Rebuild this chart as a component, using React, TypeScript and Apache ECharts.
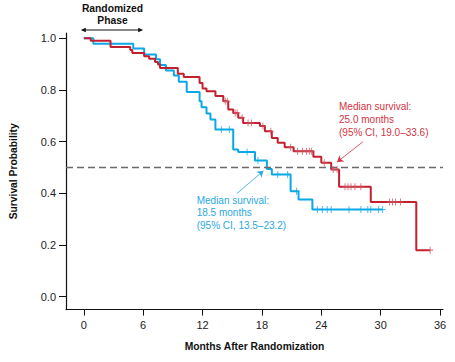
import React, { useEffect, useRef } from "react";
import * as echarts from "echarts";

const xTicks = [0, 6, 12, 18, 24, 30, 36];
const yTicks = [0, 0.2, 0.4, 0.6, 0.8, 1.0];

// Blue arm (Kaplan–Meier steps): time in months, survival probability
const blueTimes = [0, 0.97, 5.0, 6.1, 7.3, 7.7, 8.3, 9.1, 9.6, 10.4, 11.7, 11.9, 12.4, 12.8, 13.3, 15.1, 15.6, 17.3, 18.5, 19.0, 20.9, 21.7, 23.1, 30.2];
const blueProbs = [1.0, 0.978, 0.96, 0.937, 0.918, 0.896, 0.875, 0.856, 0.831, 0.792, 0.756, 0.733, 0.709, 0.685, 0.647, 0.569, 0.56, 0.527, 0.494, 0.473, 0.408, 0.376, 0.337, 0.337];
const blueCensored = [13.9, 14.7, 16.5, 17.6, 19.6, 20.6, 21.5, 23.6, 24.1, 24.6, 25.0, 26.8, 28.0, 28.7, 29.0, 29.8, 30.2];

// Red arm
const redTimes = [0, 0.7, 2.7, 4.7, 4.9, 6.1, 6.6, 7.2, 7.5, 7.7, 9.5, 10.1, 11.7, 12.0, 12.4, 13.3, 14.1, 14.6, 15.1, 15.6, 16.1, 17.8, 18.3, 19.0, 19.6, 20.3, 21.2, 23.2, 24.0, 25.0, 25.8, 29.0, 33.6, 35.0];
const redProbs = [1.0, 0.99, 0.966, 0.954, 0.943, 0.93, 0.92, 0.908, 0.898, 0.885, 0.862, 0.85, 0.827, 0.805, 0.795, 0.776, 0.756, 0.724, 0.711, 0.692, 0.672, 0.66, 0.64, 0.614, 0.595, 0.578, 0.563, 0.541, 0.518, 0.492, 0.425, 0.366, 0.18, 0.18];
const redCensored = [14.3, 14.5, 15.3, 15.5, 16.0, 16.6, 16.95, 18.1, 18.9, 20.9, 21.6, 22.1, 22.5, 22.8, 23.0, 24.3, 25.2, 25.6, 26.4, 26.7, 27.0, 27.4, 28.0, 30.9, 31.2, 31.5, 32.0, 35.0];

const RED = "#c21f2f";
const BLUE = "#0aa8e6";
const RED_TEXT = "#d2343f";
const BLUE_TEXT = "#2aa8e0";
const FONT = '"Liberation Sans", Arial, Helvetica, sans-serif';

function stepValue(times: number[], probs: number[], t: number) {
  let v = probs[0];
  for (let i = 0; i < times.length; i++) {
    if (times[i] <= t) v = probs[i];
  }
  return v;
}

const plus = "path://M5,0L5,10M0,5L10,5";

export default function App() {
  const ref = useRef<HTMLDivElement>(null);
  useEffect(() => {
    document.body.style.margin = "0";
    if (!ref.current) return;
    const chart = echarts.init(ref.current, null, { renderer: "svg" });
    const blueData = blueTimes.map((t, i) => [t, blueProbs[i]]);
    const redData = redTimes.map((t, i) => [t, redProbs[i]]);
    const blueC = blueCensored.map((t) => [t, stepValue(blueTimes, blueProbs, t)]);
    const redC = redCensored.map((t) => [t, stepValue(redTimes, redProbs, t)]);

    const option: any = {
      animation: false,
      grid: { left: 63, right: 12, top: 33, bottom: 52.4 },
      xAxis: {
        type: "value",
        min: -1.8,
        max: 36.3,
        axisLine: { onZero: false, lineStyle: { color: "#111", width: 1.2 } },
        axisTick: { customValues: xTicks, length: 6, lineStyle: { color: "#111", width: 1 } },
        axisLabel: { customValues: xTicks, margin: 10, fontSize: 11, color: "#222", fontFamily: FONT },
        splitLine: { show: false },
        name: "Months After Randomization",
        nameLocation: "middle",
        nameGap: 32,
        nameTextStyle: { fontWeight: "bold", fontSize: 10.3, color: "#111", fontFamily: FONT, verticalAlign: "top" },
      },
      yAxis: {
        type: "value",
        min: -0.05,
        max: 1.02,
        axisLine: { onZero: false, lineStyle: { color: "#111", width: 1.2 } },
        axisTick: { customValues: yTicks, length: 7, lineStyle: { color: "#111", width: 1 } },
        axisLabel: {
          customValues: yTicks,
          margin: 10,
          fontSize: 11,
          color: "#222",
          fontFamily: FONT,
          formatter: (v: number) => v.toFixed(1),
        },
        splitLine: { show: false },
        name: "Survival Probability",
        nameLocation: "middle",
        nameGap: 48,
        nameTextStyle: { fontWeight: "bold", fontSize: 10.3, color: "#111", fontFamily: FONT },
      },
      series: [
        {
          type: "line",
          name: "blue",
          data: blueData,
          step: "end",
          showSymbol: false,
          lineStyle: { color: BLUE, width: 2 },
          z: 3,
          markLine: {
            silent: true,
            symbol: ["none", "none"],
            label: { show: false },
            data: [
              [
                { coord: [15.45, 0.398], symbol: "none" },
                { coord: [18.15, 0.487], symbol: "arrow", symbolSize: 6 },
              ],
            ],
            lineStyle: { color: BLUE_TEXT, width: 0.8, type: "solid" },
          },
        },
        {
          type: "line",
          name: "red",
          data: redData,
          step: "end",
          showSymbol: false,
          lineStyle: { color: RED, width: 2 },
          z: 4,
          markLine: {
            silent: true,
            symbol: ["none", "none"],
            label: { show: false },
            data: [
              { yAxis: 0.5, lineStyle: { color: "#6a6a6a", width: 1.3, type: [7, 4] } },
              [
                { coord: [28.2, 0.599], symbol: "none", lineStyle: { color: RED_TEXT, width: 0.8, type: "solid" } },
                { coord: [25.6, 0.521], symbol: "arrow", symbolSize: 6 },
              ],
            ],
          },
        },
        {
          type: "scatter",
          data: blueC,
          symbol: plus,
          symbolSize: [6, 7],
          itemStyle: { color: "none", borderColor: BLUE, borderWidth: 1 },
          z: 5,
        },
        {
          type: "scatter",
          data: redC,
          symbol: plus,
          symbolSize: [6, 7],
          itemStyle: { color: "none", borderColor: "#d0505c", borderWidth: 1 },
          z: 6,
        },
      ],
    };
    chart.setOption(option);

    const x0 = chart.convertToPixel({ xAxisIndex: 0 }, 0) as number;
    const x6 = chart.convertToPixel({ xAxisIndex: 0 }, 6) as number;
    const ax = x0 - 3;
    const bx = x6;
    const ay = 30;
    chart.setOption({
      graphic: [
        {
          type: "text",
          x: (ax + bx) / 2 + 0.5,
          y: 1.8,
          style: {
            text: "Randomized\nPhase",
            fontSize: 10.3,
            fontWeight: "bold",
            fontFamily: FONT,
            lineHeight: 12.5,
            align: "center",
            verticalAlign: "top",
            fill: "#111",
          },
        },
        { type: "line", shape: { x1: ax + 2, y1: ay, x2: bx - 2, y2: ay }, style: { stroke: "#111", lineWidth: 1 } },
        { type: "polygon", shape: { points: [[ax, ay], [ax + 5, ay - 2.3], [ax + 5, ay + 2.3]] }, style: { fill: "#111" } },
        { type: "polygon", shape: { points: [[bx, ay], [bx - 5, ay - 2.3], [bx - 5, ay + 2.3]] }, style: { fill: "#111" } },
        {
          type: "text",
          x: 339,
          y: 100.6,
          style: {
            text: "Median survival:\n25.0 months\n(95% CI, 19.0–33.6)",
            fontSize: 10,
            fontFamily: FONT,
            lineHeight: 12.7,
            align: "left",
            verticalAlign: "top",
            fill: RED_TEXT,
          },
        },
        {
          type: "text",
          x: 196.7,
          y: 194,
          style: {
            text: "Median survival:\n18.5 months\n(95% CI, 13.5–23.2)",
            fontSize: 10,
            fontFamily: FONT,
            lineHeight: 12.6,
            align: "left",
            verticalAlign: "top",
            fill: BLUE_TEXT,
          },
        },
      ],
    });

    return () => chart.dispose();
  }, []);
  return <div ref={ref} style={{ width: 455, height: 362 }} />;
}
